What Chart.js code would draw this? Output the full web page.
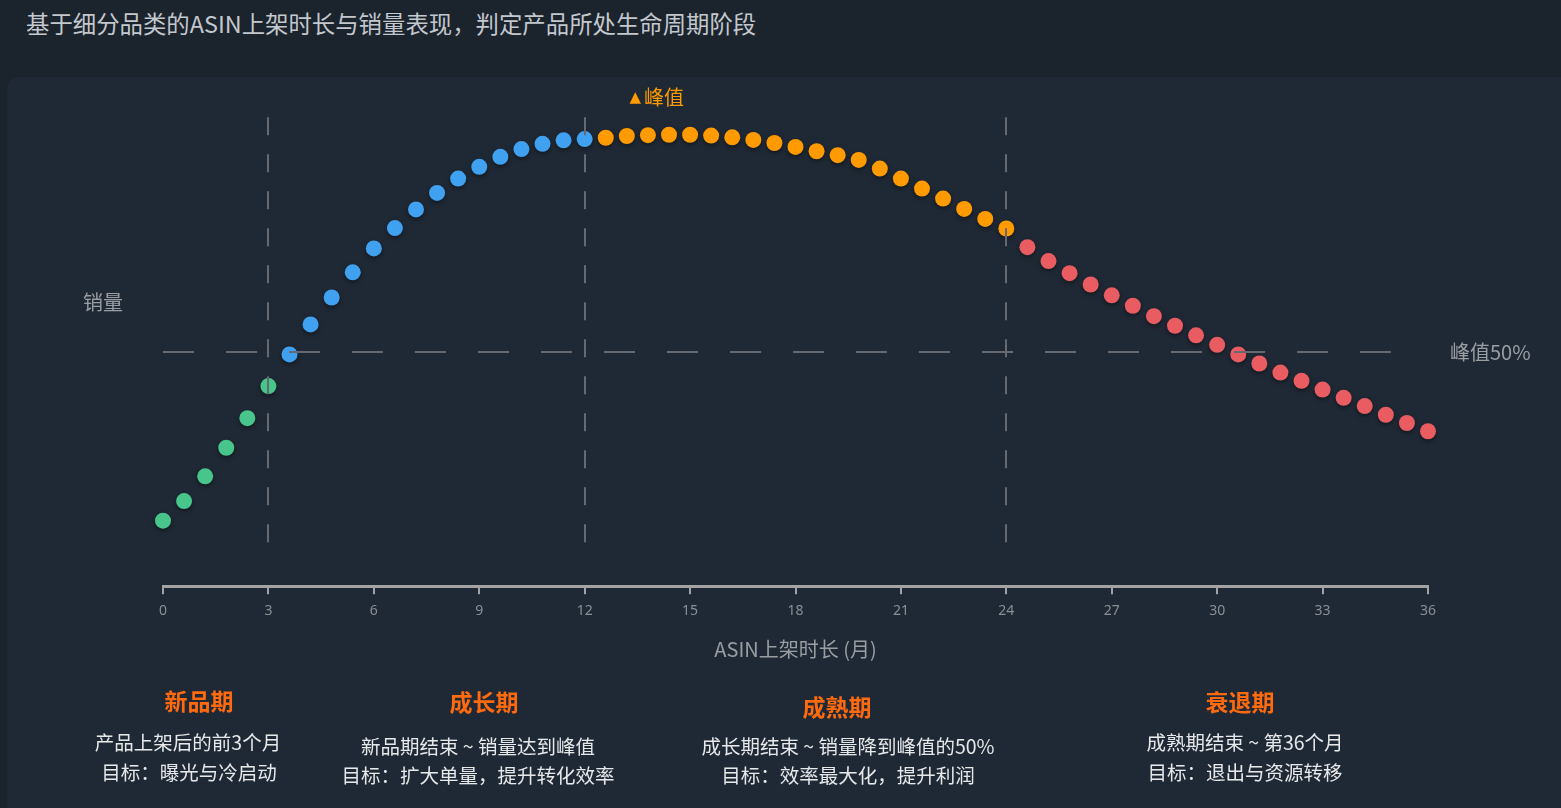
<!DOCTYPE html>
<html>
<head>
<meta charset="utf-8">
<script src="https://cdn.jsdelivr.net/npm/chart.js@4.4.1/dist/chart.umd.min.js"></script>
<style>
  html, body { margin: 0; padding: 0; background: #1b232d; overflow: hidden; }
  body { width: 1561px; height: 808px; position: relative; font-family: "Noto Sans CJK SC", "Noto Sans", sans-serif; }
  #title { position: absolute; left: 26px; top: 6px; font-size: 23.4px; color: #c3c8ce; white-space: nowrap; }
  #panel { position: absolute; left: 7px; top: 77px; width: 1570px; height: 760px; background: #1f2935; border-radius: 11px; }
  #chart { position: absolute; left: 0; top: 0; }
  .lbl { position: absolute; transform: translate(-50%, -50%); white-space: nowrap; }
  .stage { font-size: 23px; font-weight: bold; color: #ff6a0f; }
  .desc { font-size: 19.5px; color: #e6e8ea; }
</style>
</head>
<body>
<div id="title">基于细分品类的ASIN上架时长与销量表现，判定产品所处生命周期阶段</div>
<div id="panel"></div>
<canvas id="chart" width="1561" height="808"></canvas>
<div id="notes"></div>
<script>
// 上架时长（月）
const months = [
  0, 0.6, 1.2, 1.8, 2.4, 3.0,
  3.6, 4.2, 4.8, 5.4, 6.0, 6.6, 7.2, 7.8, 8.4, 9.0, 9.6, 10.2, 10.8, 11.4, 12.0,
  12.6, 13.2, 13.8, 14.4, 15.0, 15.6, 16.2, 16.8, 17.4, 18.0, 18.6, 19.2, 19.8, 20.4, 21.0, 21.6, 22.2, 22.8, 23.4, 24.0,
  24.6, 25.2, 25.8, 26.4, 27.0, 27.6, 28.2, 28.8, 29.4, 30.0, 30.6, 31.2, 31.8, 32.4, 33.0, 33.6, 34.2, 34.8, 35.4, 36.0
];
// 销量（峰值 = 100）
const sales = [
  11.1, 15.6, 21.3, 27.9, 34.7, 42.1,
  49.4, 56.3, 62.5, 68.3, 73.8, 78.5, 82.8, 86.6, 89.9, 92.6, 94.9, 96.7, 97.9, 98.7, 99.0,
  99.3, 99.7, 99.9, 100, 100, 99.8, 99.4, 98.8, 98.1, 97.2, 96.2, 95.3, 94.2, 92.2, 89.9, 87.6, 85.3, 82.9, 80.6, 78.4,
  74.1, 70.9, 68.1, 65.5, 63.0, 60.6, 58.2, 56.0, 53.8, 51.6, 49.4, 47.3, 45.2, 43.3, 41.3, 39.4, 37.5, 35.5, 33.6, 31.7
];
const stageEnds = [3, 12, 24, 36];
const stageColors = ['#47c58b', '#3fa1f0', '#ff9a00', '#e95c62'];
const dividers = [3, 12, 24];
const peakMonth = 14;
const halfPeak = 50;

const stageNames = ['新品期', '成长期', '成熟期', '衰退期'];
const stageRanges = ['产品上架后的前3个月', '新品期结束 ~ 销量达到峰值', '成长期结束 ~ 销量降到峰值的50%', '成熟期结束 ~ 第36个月'];
const stageGoals = ['目标：曝光与冷启动', '目标：扩大单量，提升转化效率', '目标：效率最大化，提升利润', '目标：退出与资源转移'];

// 文字块位置（中心点）
const noteSpots = [
  { name: [199, 700], range: [188, 741], goal: [189, 771] },
  { name: [484, 701], range: [478, 745], goal: [478, 774] },
  { name: [837, 706], range: [848, 745], goal: [848, 774] },
  { name: [1240, 701], range: [1245, 741], goal: [1245, 771] }
];

const notes = document.getElementById('notes');
function addLabel(cls, text, pos) {
  const d = document.createElement('div');
  d.className = 'lbl ' + cls;
  d.textContent = text;
  d.style.left = pos[0] + 'px';
  d.style.top = pos[1] + 'px';
  notes.appendChild(d);
}
stageNames.forEach(function (n, i) {
  addLabel('stage', n, noteSpots[i].name);
  addLabel('desc', stageRanges[i], noteSpots[i].range);
  addLabel('desc', stageGoals[i], noteSpots[i].goal);
});

function colorFor(m) {
  for (let i = 0; i < stageEnds.length; i++) {
    if (m <= stageEnds[i] + 1e-9) return stageColors[i];
  }
  return stageColors[stageColors.length - 1];
}

const pointShadow = {
  id: 'pointShadow',
  beforeDatasetDraw(chart) {
    const c = chart.ctx;
    c.save();
    c.shadowColor = 'rgba(0,0,0,0.45)';
    c.shadowBlur = 5;
    c.shadowOffsetY = 2;
  },
  afterDatasetDraw(chart) {
    chart.ctx.restore();
  }
};

const guides = {
  id: 'guides',
  afterDatasetsDraw(chart) {
    const c = chart.ctx;
    const x = chart.scales.x, y = chart.scales.y;
    const area = chart.chartArea;
    c.save();
    c.strokeStyle = '#666a70';
    c.lineWidth = 2;
    c.setLineDash([18, 19]);
    dividers.forEach(function (m) {
      const px = Math.round(x.getPixelForValue(m));
      c.beginPath();
      c.moveTo(px, y.getPixelForValue(104));
      c.lineTo(px, y.getPixelForValue(5));
      c.stroke();
    });
    c.setLineDash([31, 32]);
    const py = Math.round(y.getPixelForValue(halfPeak));
    c.beginPath();
    c.moveTo(x.getPixelForValue(0), py);
    c.lineTo(x.getPixelForValue(35.2), py);
    c.stroke();
    c.setLineDash([]);

    c.textBaseline = 'middle';
    const peakX = x.getPixelForValue(peakMonth);
    const peakY = y.getPixelForValue(108.7);
    c.fillStyle = '#ff9a00';
    c.textAlign = 'right';
    c.font = '15px "DejaVu Sans", sans-serif';
    c.fillText('▲', peakX - 14, peakY + 1);
    c.textAlign = 'left';
    c.font = '20px "Noto Sans CJK SC", sans-serif';
    c.fillText('峰值', peakX - 11, peakY);

    c.fillStyle = '#9a9ea3';
    c.textAlign = 'center';
    c.fillText('销量', area.left - 60, y.getPixelForValue(61.3));
    c.textAlign = 'left';
    c.fillText('峰值50%', area.right + 22, py);
    c.restore();
  }
};

new Chart(document.getElementById('chart').getContext('2d'), {
  type: 'scatter',
  data: {
    datasets: [{
      label: '销量',
      data: months.map(function (m, i) { return { x: m, y: sales[i] }; }),
      pointBackgroundColor: months.map(colorFor),
      pointBorderWidth: 0,
      pointRadius: 8,
      pointHoverRadius: 8,
      showLine: false,
      clip: false
    }]
  },
  options: {
    responsive: false,
    animation: false,
    events: [],
    layout: { padding: { left: 163, right: 133, top: 100, bottom: 147 } },
    plugins: {
      legend: { display: false },
      tooltip: { enabled: false }
    },
    scales: {
      x: {
        type: 'linear',
        min: 0,
        max: 36,
        border: { display: true, color: '#a3a3a3', width: 3 },
        grid: { display: true, drawOnChartArea: false, drawTicks: true, tickLength: 8, color: '#a3a3a3', lineWidth: 2 },
        ticks: { stepSize: 3, padding: 8, color: '#8a8f96', font: { size: 14, family: '"Noto Sans", sans-serif' } },
        title: {
          display: true,
          text: 'ASIN上架时长 (月)',
          color: '#9a9ea3',
          font: { size: 20, family: '"Noto Sans CJK SC", sans-serif' },
          padding: { top: 10, bottom: 0 }
        }
      },
      y: { display: false, min: -4, max: 108 }
    }
  },
  plugins: [pointShadow, guides]
});
</script>
</body>
</html>
